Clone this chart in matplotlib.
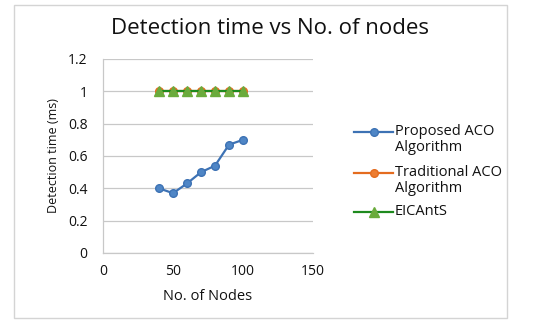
import matplotlib
matplotlib.use("Agg")
import matplotlib.pyplot as plt
from matplotlib.patches import Rectangle
from matplotlib.lines import Line2D

plt.rcParams['font.family'] = ['Open Sans', 'DejaVu Sans']

nodes = [40, 50, 60, 70, 80, 90, 100]
proposed = [0.40, 0.37, 0.43, 0.50, 0.54, 0.67, 0.70]
traditional = [1, 1, 1, 1, 1, 1, 1]
eicants = [1, 1, 1, 1, 1, 1, 1]
series_names = ["Proposed ACO\nAlgorithm", "Traditional ACO\nAlgorithm", "EICAntS"]
x_ticks = [0, 50, 100, 150]
y_ticks = [0, 0.2, 0.4, 0.6, 0.8, 1, 1.2]
y_tick_labels = ["0", "0.2", "0.4", "0.6", "0.8", "1", "1.2"]

W, H = 534, 325
TXT = "#111111"
fig = plt.figure(figsize=(W / 100, H / 100), dpi=100)
fig.patch.set_facecolor("white")

# outer chart frame
fig.add_artist(Rectangle((14 / W, 1 - 318 / H), (507 - 14) / W, (318 - 5) / H,
                         transform=fig.transFigure, fill=False,
                         edgecolor="#d4d4d4", linewidth=1.0))

ax = fig.add_axes([103 / W, 1 - 253 / H, (313 - 103) / W, (253 - 59) / H])
ax.set_xlim(0, 150)
ax.set_ylim(0, 1.2)
ax.set_xticks(x_ticks)
ax.set_yticks(y_ticks)
ax.set_yticklabels(y_tick_labels)
ax.tick_params(length=0, labelsize=10, colors=TXT)
ax.tick_params(axis="y", pad=11)
ax.tick_params(axis="x", pad=8)
ax.grid(axis="y", color="#c8c8c8", linewidth=0.9)
ax.set_axisbelow(True)
for s in ("top", "right"):
    ax.spines[s].set_visible(False)
for s in ("left", "bottom"):
    ax.spines[s].set_color("#c8c8c8")
    ax.spines[s].set_linewidth(0.9)

styles = [
    dict(color="#3d72b4", linewidth=1.6, marker="o", markersize=5.5,
         markerfacecolor="#4f86c6", markeredgecolor="#3d72b4"),
    dict(color="#e46c1f", linewidth=1.6, marker="o", markersize=5.5,
         markerfacecolor="#ed7d31", markeredgecolor="#e46c1f"),
    dict(color="#1e8a1e", linewidth=1.6, marker="^", markersize=6.5,
         markerfacecolor="#6aab3c", markeredgecolor="#6aab3c"),
]

ax.plot(nodes, proposed, **styles[0])
ax.plot(nodes, traditional, **styles[1])
ax.plot(nodes, eicants, **styles[2])

ax.set_xlabel("No. of Nodes", fontsize=10.5, color=TXT, labelpad=7)
ax.set_ylabel("Detection time (ms)", fontsize=9, color=TXT, labelpad=6)

fig.text(270 / W, 1 - 28 / H, "Detection time vs No. of nodes", fontsize=16,
         ha="center", va="center", color=TXT)

# legend: key aligned with the first line of each label
entry_y = [132, 173, 212]
for name, st, yy in zip(series_names, styles, entry_y):
    yf = 1 - yy / H
    fig.add_artist(Line2D([354 / W, 393 / W], [yf, yf], transform=fig.transFigure,
                          color=st["color"], linewidth=st["linewidth"]))
    fig.add_artist(Line2D([373.5 / W], [yf], transform=fig.transFigure,
                          linestyle="none", marker=st["marker"],
                          markersize=st["markersize"],
                          markerfacecolor=st["markerfacecolor"],
                          markeredgecolor=st["markeredgecolor"]))
    fig.text(395 / W, 1 - (yy - 8) / H, name, fontsize=10.5, color=TXT,
             ha="left", va="top", linespacing=1.05)

fig.savefig("out.png", dpi=100)
